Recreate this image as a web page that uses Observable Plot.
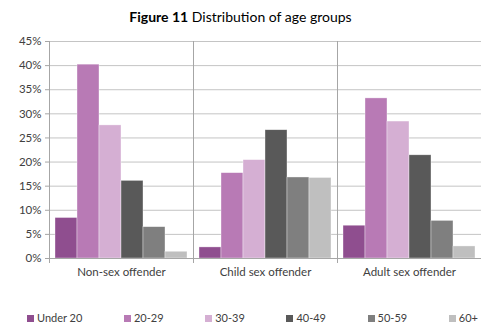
<!DOCTYPE html>
<html>
<head>
<meta charset="utf-8">
<script src="https://cdn.jsdelivr.net/npm/d3@7"></script>
<script src="https://cdn.jsdelivr.net/npm/@observablehq/plot@0.6"></script>
<style>
  html, body { margin: 0; padding: 0; background: #fff; }
  body { width: 481px; height: 327px; overflow: hidden; font-family: Lato, "Liberation Sans", sans-serif; color: #404040; }
  #title { height: 30px; line-height: 34px; text-align: center; font-size: 14px; color: #000; white-space: nowrap; }
  #title b { font-weight: 700; }
  #chart svg { display: block; }
  #legend { display: flex; justify-content: space-between; align-items: center; padding-left: 27px; padding-right: 3px; margin-top: 26px; height: 14px; font-size: 11px; line-height: 14px; color: #404040; white-space: nowrap; }
  #legend .item { display: flex; align-items: center; flex-shrink: 0; }
  #legend .sw { width: 7px; height: 7px; margin-right: 3px; flex-shrink: 0; }
</style>
</head>
<body>
<div id="title"><b>Figure 11</b> Distribution of age groups</div>
<div id="chart"></div>
<div id="legend"></div>
<script>
const categories = ["Non-sex offender", "Child sex offender", "Adult sex offender"];
const ageGroups = ["Under 20", "20-29", "30-39", "40-49", "50-59", "60+"];
const nonSexOffender = [8.4, 40.2, 27.6, 16.1, 6.5, 1.4];
const childSexOffender = [2.3, 17.7, 20.4, 26.6, 16.8, 16.7];
const adultSexOffender = [6.8, 33.2, 28.4, 21.4, 7.8, 2.5];
const colors = ["#8f4e8f", "#b87ab5", "#d5afd3", "#595959", "#7f7f7f", "#bfbfbf"];
const yTicks = [0, 5, 10, 15, 20, 25, 30, 35, 40, 45];

const seriesValues = [nonSexOffender, childSexOffender, adultSexOffender];
const data = [];
categories.forEach((c, i) => ageGroups.forEach((a, j) => data.push({category: c, age: a, value: seriesValues[i][j]})));

const chart = Plot.plot({
  width: 481,
  height: 255,
  marginLeft: 49,
  marginRight: 0,
  marginTop: 11,
  marginBottom: 27,
  style: {fontFamily: "Lato, 'Liberation Sans', sans-serif", fontSize: "11.5px", color: "#404040", background: "#fff"},
  fx: {domain: categories, padding: 0, label: null},
  x: {domain: ageGroups, axis: null, paddingInner: 0, paddingOuter: 0.176},
  y: {domain: [0, 45], label: null},
  color: {domain: ageGroups, range: colors},
  marks: [
    Plot.ruleY(yTicks, {stroke: "#c4c4c4", strokeWidth: 1}),
    Plot.frame({anchor: "left", stroke: "#a6a6a6", insetBottom: -4}),
    Plot.barY(data, {fx: "category", x: "age", y: "value", fill: "age", stroke: "#ffffff", strokeOpacity: 0.6, strokeWidth: 0.6}),
    Plot.ruleY([0], {stroke: "#a6a6a6"}),
    Plot.axisY({ticks: yTicks, tickFormat: d => d + "%", tickSize: 4, tickPadding: 4, stroke: "#a6a6a6", label: null, fill: "#404040"}),
    Plot.axisFx({anchor: "bottom", tickSize: 0, tickPadding: 9, label: null, fill: "#404040"})
  ]
});
document.getElementById("chart").appendChild(chart);

const legend = document.getElementById("legend");
ageGroups.forEach((a, i) => {
  const item = document.createElement("div");
  item.className = "item";
  const sw = document.createElement("span");
  sw.className = "sw";
  sw.style.background = colors[i];
  const t = document.createElement("span");
  t.textContent = a;
  item.appendChild(sw);
  item.appendChild(t);
  legend.appendChild(item);
});
</script>
</body>
</html>
